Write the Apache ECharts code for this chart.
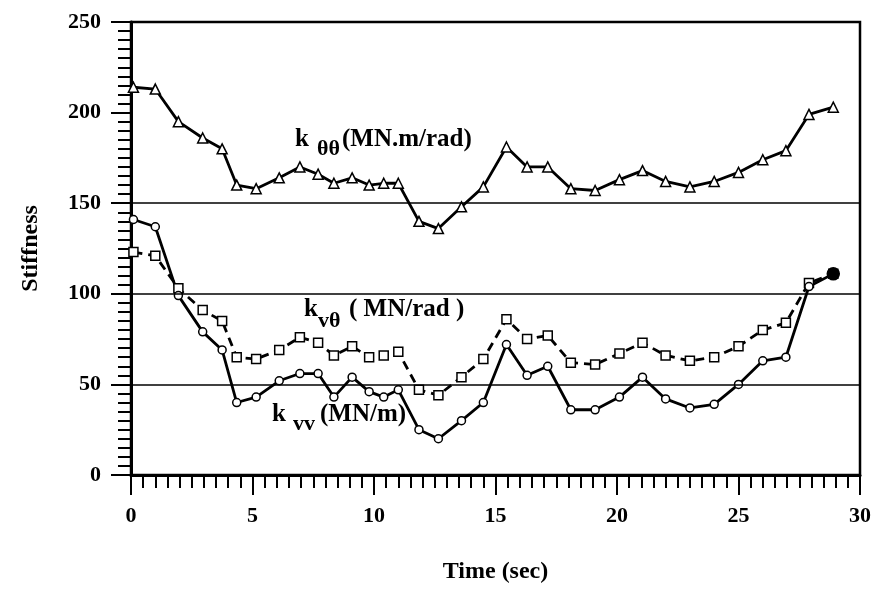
<!DOCTYPE html>
<html>
<head>
<meta charset="utf-8">
<script src="https://cdn.jsdelivr.net/npm/echarts@6/dist/echarts.min.js"></script>
<style>
  html, body { margin: 0; padding: 0; background: #fff; }
  #chart { width: 874px; height: 590px; }
</style>
</head>
<body>
<div id="chart"></div>
<script>
const times = [0.1, 1.0, 1.95, 2.95, 3.75, 4.35, 5.15, 6.1, 6.95, 7.7, 8.35, 9.1, 9.8, 10.4, 11.0, 11.85,
  12.65, 13.6, 14.5, 15.45, 16.3, 17.15, 18.1, 19.1, 20.1, 21.05, 22.0, 23.0, 24.0, 25.0, 26.0, 26.95, 27.9, 28.9];
const kThetaTheta = [214, 213, 195, 186, 180, 160, 158, 164, 170, 166, 161, 164, 160, 161, 161, 140,
  136, 148, 159, 181, 170, 170, 158, 157, 163, 168, 162, 159, 162, 167, 174, 179, 199, 203];
const kVTheta = [123, 121, 103, 91, 85, 65, 64, 69, 76, 73, 66, 71, 65, 66, 68, 47,
  44, 54, 64, 86, 75, 77, 62, 61, 67, 73, 66, 63, 65, 71, 80, 84, 106, 111];
const kVV = [141, 137, 99, 79, 69, 40, 43, 52, 56, 56, 43, 54, 46, 43, 47, 25,
  20, 30, 40, 72, 55, 60, 36, 36, 43, 54, 42, 37, 39, 50, 63, 65, 104, 111];
const gridValues = [50, 100, 150];
const xTicks = { min: 0, max: 30, step: 5 };
const yTicks = { min: 0, max: 250, step: 50 };

const serif = '"Liberation Serif", "DejaVu Serif", serif';
const pairs = (ys) => times.map((t, i) => [t, ys[i]]);

const chart = echarts.init(document.getElementById('chart'));

const axisCommon = {
  axisLine: { lineStyle: { color: '#000', width: 3 } },
  axisTick: { length: 20, lineStyle: { color: '#000', width: 2 } },
  minorTick: { show: true, splitNumber: 10, length: 13, lineStyle: { color: '#000', width: 2 } },
  splitLine: { show: false },
  axisLabel: { color: '#000', fontFamily: serif, fontWeight: 'bold', fontSize: 22, margin: 30 },
  nameTextStyle: { color: '#000', fontFamily: serif, fontWeight: 'bold', fontSize: 24 }
};

const textStyle = (size) => ({ fill: '#000', font: `bold ${size}px ${serif}`, verticalAlign: 'middle' });

chart.setOption({
  animation: false,
  grid: {
    left: 131, right: 6, top: 22, bottom: 115,
    show: true, borderColor: '#000', borderWidth: 2.5
  },
  xAxis: {
    type: 'value', min: xTicks.min, max: xTicks.max, interval: xTicks.step,
    name: 'Time (sec)', nameLocation: 'middle', nameGap: 85,
    ...axisCommon
  },
  yAxis: {
    type: 'value', min: yTicks.min, max: yTicks.max, interval: yTicks.step,
    name: 'Stiffness', nameLocation: 'middle', nameGap: 88,
    ...axisCommon
  },
  series: [
    {
      name: 'k_thetatheta', type: 'line', data: pairs(kThetaTheta),
      symbol: 'triangle', symbolSize: 10, showAllSymbol: true,
      lineStyle: { color: '#000', width: 2.8 },
      itemStyle: { color: '#fff', borderColor: '#000', borderWidth: 1.5 }
    },
    {
      name: 'k_vtheta', type: 'line', data: pairs(kVTheta),
      symbol: 'rect', symbolSize: 9, showAllSymbol: true,
      lineStyle: { color: '#000', width: 2.8, type: [9, 6] },
      itemStyle: { color: '#fff', borderColor: '#000', borderWidth: 1.5 }
    },
    {
      name: 'k_vv', type: 'line',
      data: pairs(kVV).map((p, i) => i === kVV.length - 1
        ? { value: p, symbolSize: 12, itemStyle: { color: '#000' } }
        : p),
      symbol: 'circle', symbolSize: 8, showAllSymbol: true,
      lineStyle: { color: '#000', width: 2.8 },
      itemStyle: { color: '#fff', borderColor: '#000', borderWidth: 1.5 },
      markLine: {
        silent: true, symbol: 'none', label: { show: false },
        lineStyle: { color: '#000', width: 1.5, type: 'solid' },
        data: gridValues.map((v) => ({ yAxis: v }))
      }
    }
  ],
  graphic: [
    { type: 'text', left: 295, top: 127, style: { text: 'k', ...textStyle(25) } },
    { type: 'text', left: 317, top: 138, style: { text: 'θθ', ...textStyle(22) } },
    { type: 'text', left: 342, top: 127, style: { text: '(MN.m/rad)', ...textStyle(25) } },

    { type: 'text', left: 304, top: 297, style: { text: 'k', ...textStyle(25) } },
    { type: 'text', left: 318, top: 310, style: { text: 'vθ', ...textStyle(22) } },
    { type: 'text', left: 349, top: 297, style: { text: '( MN/rad )', ...textStyle(25) } },

    { type: 'text', left: 272, top: 402, style: { text: 'k', ...textStyle(25) } },
    { type: 'text', left: 293, top: 413, style: { text: 'vv', ...textStyle(22) } },
    { type: 'text', left: 320, top: 402, style: { text: '(MN/m)', ...textStyle(25) } }
  ]
});
</script>
</body>
</html>
